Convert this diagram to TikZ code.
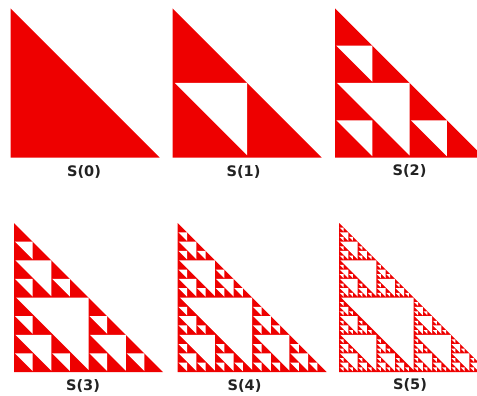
\documentclass[tikz,border=0pt]{standalone}
\usepackage{fontspec}
\setmainfont{DejaVu Sans}
\definecolor{sred}{RGB}{238,0,0}
\definecolor{labelgray}{RGB}{34,34,34}
\tikzset{
  redtri/.style={fill=sred},
  lbl/.style={font=\fontsize{14.5}{16}\selectfont\bfseries, text=labelgray, inner sep=0pt}
}
\newcommand\sierpholes[4]{%
 \ifnum#1>0\relax
  \begingroup
  \pgfmathsetmacro\hh{#4/2}%
  \pgfmathsetmacro\dd{0.6+0.02*\hh}%
  \fill[white] ({#2+\dd},{#3+\hh}) -- ({#2+\hh},{#3+\hh}) -- ({#2+\hh},{#3+#4-\dd}) -- cycle;
  \pgfmathsetmacro\xm{#2+\hh}%
  \pgfmathsetmacro\ym{#3+\hh}%
  \pgfmathtruncatemacro\lv{#1-1}%
  \edef\next{\noexpand\sierpholes{\lv}{#2}{#3}{\hh}\noexpand\sierpholes{\lv}{#2}{\ym}{\hh}\noexpand\sierpholes{\lv}{\xm}{\ym}{\hh}}%
  \expandafter\endgroup\next
 \fi}
\newcommand\sierppanel[4]{% level, x, y, size
  \fill[redtri] (#2,#3) -- ({#2},{#3+#4}) -- ({#2+#4},{#3+#4}) -- cycle;
  \sierpholes{#1}{#2}{#3}{#4}}
\begin{document}
\begin{tikzpicture}[x=1pt,y=-1pt]
\useasboundingbox (0,0) rectangle (477,396);
\fill[white] (0,0) rectangle (477,396);
\clip (0,0) rectangle (477,396);
\sierppanel{0}{10.5}{8.5}{149}
\sierppanel{1}{172.7}{8.5}{149}
\sierppanel{2}{335}{8.5}{149}
\sierppanel{3}{14}{223}{149}
\sierppanel{4}{177.7}{223}{149}
\sierppanel{5}{339}{223}{149}
\node[lbl] (l0) at (84,172) {S(0)};
\node[lbl] (l1) at (243.5,172) {S(1)};
\node[lbl] (l2) at (409.5,171) {S(2)};
\node[lbl] (l3) at (83,386) {S(3)};
\node[lbl] (l4) at (244.5,386) {S(4)};
\node[lbl] (l5) at (410,385) {S(5)};
\end{tikzpicture}
\end{document}
